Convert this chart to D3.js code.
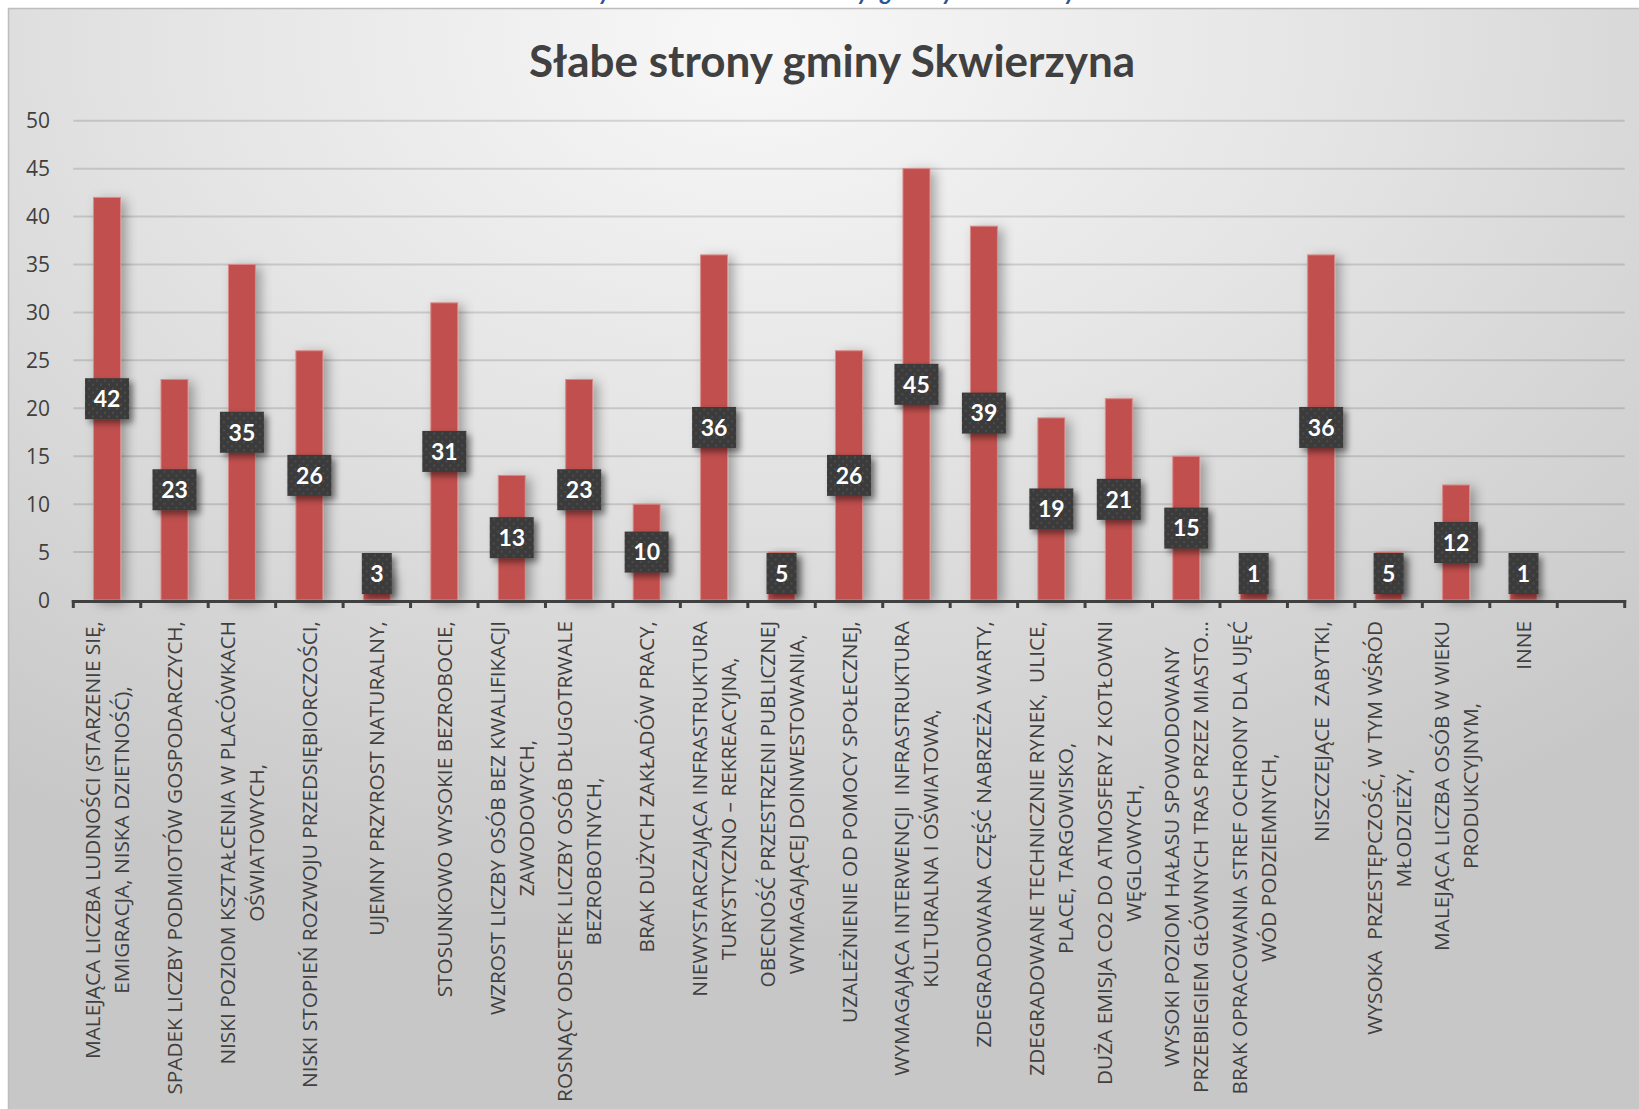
<!DOCTYPE html>
<html>
<head>
<meta charset="utf-8">
<script src="https://cdn.jsdelivr.net/npm/d3@7"></script>
<style>
  body { margin: 0; background: #fff; }
</style>
</head>
<body>
<script>
// chart data
const title = "Słabe strony gminy Skwierzyna";
const caption = "Wykres 5. Słabe strony gminy Skwierzyna";

const categories = [
  ["MALEJĄCA LICZBA LUDNOŚCI (STARZENIE SIĘ,", "EMIGRACJA, NISKA DZIETNOŚĆ),"],
  ["SPADEK LICZBY PODMIOTÓW GOSPODARCZYCH,"],
  ["NISKI POZIOM KSZTAŁCENIA W PLACÓWKACH", "OŚWIATOWYCH,"],
  ["NISKI STOPIEŃ ROZWOJU PRZEDSIĘBIORCZOŚCI,"],
  ["UJEMNY PRZYROST NATURALNY,"],
  ["STOSUNKOWO WYSOKIE BEZROBOCIE,"],
  ["WZROST LICZBY OSÓB BEZ KWALIFIKACJI", "ZAWODOWYCH,"],
  ["ROSNĄCY ODSETEK LICZBY OSÓB DŁUGOTRWALE", "BEZROBOTNYCH,"],
  ["BRAK DUŻYCH ZAKŁADÓW PRACY,"],
  ["NIEWYSTARCZAJĄCA INFRASTRUKTURA", "TURYSTYCZNO – REKREACYJNA,"],
  ["OBECNOŚĆ PRZESTRZENI PUBLICZNEJ", "WYMAGAJĄCEJ DOINWESTOWANIA,"],
  ["UZALEŻNIENIE OD POMOCY SPOŁECZNEJ,"],
  ["WYMAGAJĄCA INTERWENCJI  INFRASTRUKTURA", "KULTURALNA I OŚWIATOWA,"],
  ["ZDEGRADOWANA CZĘŚĆ NABRZEŻA WARTY,"],
  ["ZDEGRADOWANE TECHNICZNIE RYNEK,  ULICE,", "PLACE, TARGOWISKO,"],
  ["DUŻA EMISJA CO2 DO ATMOSFERY Z KOTŁOWNI", "WĘGLOWYCH,"],
  ["WYSOKI POZIOM HAŁASU SPOWODOWANY", "PRZEBIEGIEM GŁÓWNYCH TRAS PRZEZ MIASTO…"],
  ["BRAK OPRACOWANIA STREF OCHRONY DLA UJĘĆ", "WÓD PODZIEMNYCH,"],
  ["NISZCZEJĄCE  ZABYTKI,"],
  ["WYSOKA  PRZESTĘPCZOŚĆ, W TYM WŚRÓD", "MŁODZIEŻY,"],
  ["MALEJĄCA LICZBA OSÓB W WIEKU", "PRODUKCYJNYM,"],
  ["INNE"],
  [""]   // empty slot at the end of the axis
];
const values = [42, 23, 35, 26, 3, 31, 13, 23, 10, 36, 5, 26, 45, 39, 19, 21, 15, 1, 36, 5, 12, 1];
const yTicks = [0, 5, 10, 15, 20, 25, 30, 35, 40, 45, 50];

const W = 1639, H = 1109;
const barColor = "#C0504D";
const textColor = "#404040";

const svg = d3.select("body").append("svg")
    .attr("width", W).attr("height", H);

const defs = svg.append("defs");

// background gradient of the chart area
const bg = defs.append("radialGradient").attr("id", "bg")
    .attr("cx", 0.45).attr("cy", 0.03).attr("r", 0.8);
bg.selectAll("stop")
    .data([[0, "#f8f8f8"], [0.45, "#e4e4e4"], [1, "#c7c7c7"]])
    .enter().append("stop")
    .attr("offset", d => d[0]).attr("stop-color", d => d[1]);

// dotted fill of the value boxes
const pat = defs.append("pattern").attr("id", "dots")
    .attr("width", 8).attr("height", 8).attr("patternUnits", "userSpaceOnUse");
pat.append("rect").attr("width", 8).attr("height", 8).attr("fill", "#3b3b3b");
pat.append("circle").attr("cx", 2).attr("cy", 2).attr("r", 1).attr("fill", "#525252");
pat.append("circle").attr("cx", 6).attr("cy", 6).attr("r", 1).attr("fill", "#525252");

defs.append("filter").attr("id", "barShadow")
    .attr("x", "-60%").attr("y", "-10%").attr("width", "220%").attr("height", "130%")
    .append("feDropShadow")
    .attr("dx", 5).attr("dy", 3).attr("stdDeviation", 6)
    .attr("flood-color", "#000").attr("flood-opacity", 0.32);

defs.append("filter").attr("id", "boxShadow")
    .attr("x", "-30%").attr("y", "-30%").attr("width", "170%").attr("height", "170%")
    .append("feDropShadow")
    .attr("dx", 4).attr("dy", 4).attr("stdDeviation", 3)
    .attr("flood-color", "#000").attr("flood-opacity", 0.45);

// caption of the document, cut off by the top of the picture
svg.append("text")
    .attr("x", 573).attr("y", 0)
    .attr("textLength", 535)
    .style("font-family", "Lato, sans-serif")
    .style("font-weight", "bold").style("font-style", "italic")
    .style("font-size", "24px").style("fill", "#2F5496")
    .text(caption);

// chart frame
svg.append("rect")
    .attr("x", 8.5).attr("y", 8.5)
    .attr("width", W + 20).attr("height", H + 20)
    .attr("fill", "url(#bg)")
    .attr("stroke", "#bdbdbd").attr("stroke-width", 1.5);

// title
svg.append("text")
    .attr("x", 832).attr("y", 77)
    .attr("text-anchor", "middle")
    .style("font-family", "Lato, sans-serif")
    .style("font-weight", "bold").style("font-size", "44px")
    .style("fill", textColor)
    .text(title);

// scales
const x = d3.scaleBand()
    .domain(d3.range(categories.length))
    .range([73.3, 1624.7])
    .paddingInner(0).paddingOuter(0);

const y = d3.scaleLinear()
    .domain([0, 50])
    .range([600, 120.7]);

// gridlines
svg.append("g").selectAll("line")
    .data(yTicks.slice(1))
    .enter().append("line")
    .attr("x1", x.range()[0]).attr("x2", x.range()[1])
    .attr("y1", d => y(d)).attr("y2", d => y(d))
    .attr("stroke", "#000").attr("stroke-opacity", 0.13).attr("stroke-width", 2);

// y tick labels
svg.append("g").selectAll("text")
    .data(yTicks)
    .enter().append("text")
    .attr("x", 50).attr("y", d => y(d))
    .attr("dy", "0.36em")
    .attr("text-anchor", "end")
    .style("font-family", "'Open Sans', sans-serif")
    .style("font-size", "21px").style("fill", textColor)
    .text(d => d);

// bars
const barW = x.bandwidth() * 0.4;
svg.append("g").selectAll("rect")
    .data(values)
    .enter().append("rect")
    .attr("x", (d, i) => x(i) + (x.bandwidth() - barW) / 2)
    .attr("y", d => y(d))
    .attr("width", barW)
    .attr("height", d => y(0) - y(d))
    .attr("fill", barColor)
    .attr("stroke", "#d98b89").attr("stroke-width", 1)
    .attr("filter", "url(#barShadow)");

// axis line and ticks
const axis = svg.append("g");
axis.append("line")
    .attr("x1", x.range()[0] - 1.5).attr("x2", x.range()[1] + 1.5)
    .attr("y1", 601.5).attr("y2", 601.5)
    .attr("stroke", textColor).attr("stroke-width", 3);
axis.selectAll(".tick")
    .data(x.domain().concat([categories.length]))
    .enter().append("line")
    .attr("class", "tick")
    .attr("x1", d => x.range()[0] + d * x.step())
    .attr("x2", d => x.range()[0] + d * x.step())
    .attr("y1", 600).attr("y2", 608)
    .attr("stroke", textColor).attr("stroke-width", 3);

// value boxes
const boxH = 41;
const boxes = svg.append("g").selectAll("g")
    .data(values)
    .enter().append("g")
    .attr("transform", function (d, i) {
        var cx = x(i) + x.bandwidth() / 2;
        var cy = Math.min(y(d / 2), y(0) - 6 - boxH / 2);
        return "translate(" + cx + "," + cy + ")";
    });
boxes.append("rect")
    .attr("x", d => String(d).length > 1 ? -22 : -15)
    .attr("y", -boxH / 2)
    .attr("width", d => String(d).length > 1 ? 44 : 30)
    .attr("height", boxH)
    .attr("fill", "url(#dots)")
    .attr("filter", "url(#boxShadow)");
boxes.append("text")
    .attr("text-anchor", "middle")
    .attr("dy", "0.36em")
    .style("font-family", "Lato, sans-serif")
    .style("font-weight", "bold").style("font-size", "23px")
    .style("fill", "#fff")
    .text(d => d);

// category labels, rotated, lines centred on the longest one
const lineGap = 29;
const labels = svg.append("g").selectAll("g")
    .data(categories)
    .enter().append("g")
    .attr("transform", (d, i) => "translate(" + (x(i) + x.bandwidth() / 2) + ",621) rotate(-90)");

labels.each(function (lines) {
    var g = d3.select(this);
    var texts = g.selectAll("text")
        .data(lines)
        .enter().append("text")
        .attr("y", (d, j) => (j - (lines.length - 1) / 2) * lineGap)
        .attr("dy", "0.36em")
        .attr("text-anchor", "middle")
        .style("font-family", "'Open Sans', sans-serif")
        .style("font-size", "20.8px").style("fill", textColor)
        .style("white-space", "pre")
        .text(d => d);
    var maxLen = d3.max(texts.nodes(), n => n.getComputedTextLength());
    texts.attr("x", -maxLen / 2);
});
</script>
</body>
</html>
